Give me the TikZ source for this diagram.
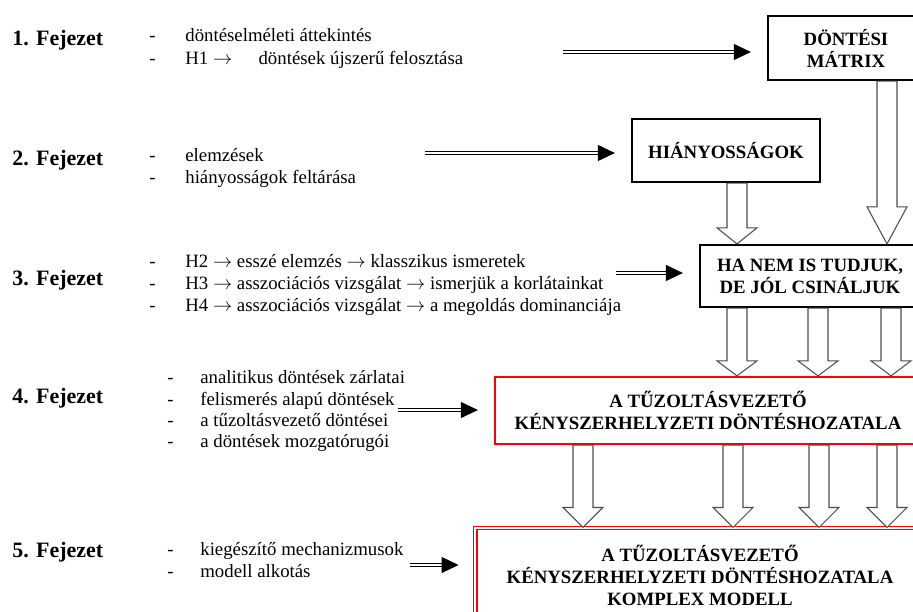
\documentclass[tikz,border=0pt]{standalone}
\usepackage{fontspec}
\setmainfont{Liberation Serif}
\usetikzlibrary{arrows.meta,calc}

\newcommand\bodyfont{\fontsize{10.7}{13}\selectfont}
\newcommand\chapfont{\fontsize{12.5}{15}\selectfont\bfseries}
\newcommand\boxfont{\fontsize{10.7}{12.5}\selectfont\bfseries}

% hollow block arrow: column, from node, to node, head length
\newcommand\bigarrow[4]{%
  \draw[blockarrow] let \p1=(#1 |- #2.south), \p2=(#1 |- #3.north) in
    (\x1-0.2cm,\y1) -- (\x1-0.2cm,\y2+#4) -- (\x1-0.4cm,\y2+#4) -- (\x1,\y2)
    -- (\x1+0.4cm,\y2+#4) -- (\x1+0.2cm,\y2+#4) -- (\x1+0.2cm,\y1) -- cycle;}

\begin{document}
\begin{tikzpicture}[x=0.02cm, y=-0.02cm,
  chap/.style={anchor=base west, inner sep=0pt, font=\chapfont},
  item/.style={anchor=base west, inner sep=0pt, font=\bodyfont},
  box/.style={draw, line width=1.3pt, align=center, font=\boxfont, inner sep=0pt},
  redbox/.style={box, draw=red},
  redbox2/.style={box, draw=red, line width=0.6pt, double=white, double distance=1.6pt},
  dblarrow/.style={double, double distance=1.3pt, line width=0.6pt,
    -{Triangle[length=0.34cm, width=0.32cm]}, shorten >=0.32cm},
  blockarrow/.style={draw=black!70, line width=0.6pt, fill=white}]
\useasboundingbox (0,0) rectangle (913,612);
\clip (0,0) rectangle (913,612);

% chapter labels
\foreach \n/\yy in {1/45, 2/165, 3/285, 4/403, 5/557}
  \node[chap] (f\n) at (12,\yy) {\n. Fejezet};

% chapter 1
\foreach \n/\yy/\txt in {a/41/{döntéselméleti áttekintés},
    b/64/{H1 $\rightarrow$\hspace{1.4em}döntések újszerű felosztása}} {
  \node[item] (d1\n) at (149,\yy) {-};
  \node[item] (i1\n) at (185,\yy) {\txt};
}
% chapter 2
\foreach \n/\yy/\txt in {a/161/{elemzések}, b/183/{hiányosságok feltárása}} {
  \node[item] (d2\n) at (149,\yy) {-};
  \node[item] (i2\n) at (185,\yy) {\txt};
}
% chapter 3
\foreach \n/\yy/\txt in {a/267/{H2 $\rightarrow$ esszé elemzés $\rightarrow$ klasszikus ismeretek},
    b/289/{H3 $\rightarrow$ asszociációs vizsgálat $\rightarrow$ ismerjük a korlátainkat},
    c/311/{H4 $\rightarrow$ asszociációs vizsgálat $\rightarrow$ a megoldás dominanciája}} {
  \node[item] (d3\n) at (149,\yy) {-};
  \node[item] (i3\n) at (185,\yy) {\txt};
}
% chapter 4
\foreach \n/\yy/\txt in {a/383/{analitikus döntések zárlatai}, b/405/{felismerés alapú döntések},
    c/426/{a tűzoltásvezető döntései}, d/447/{a döntések mozgatórugói}} {
  \node[item] (d4\n) at (167,\yy) {-};
  \node[item] (i4\n) at (200,\yy) {\txt};
}
% chapter 5
\foreach \n/\yy/\txt in {a/555/{kiegészítő mechanizmusok}, b/577/{modell alkotás}} {
  \node[item] (d5\n) at (167,\yy) {-};
  \node[item] (i5\n) at (200,\yy) {\txt};
}

% boxes
\node[box, minimum width=3.12cm, minimum height=1.28cm] (dontesi) at (846,48) {DÖNTÉSI\\MÁTRIX};
\node[box, minimum width=3.76cm, minimum height=1.26cm] (hiany) at (726,150.5) {HIÁNYOSSÁGOK};
\node[box, minimum width=4.4cm, minimum height=1.24cm] (tudjuk) at (810,276) {HA NEM IS TUDJUK,\\DE JÓL CSINÁLJUK};
\node[redbox, minimum width=8.52cm, minimum height=1.34cm] (kenyszer) at (708,410.5)
  {A TŰZOLTÁSVEZETŐ\\KÉNYSZERHELYZETI DÖNTÉSHOZATALA};
\node[redbox2, minimum width=9.0cm, minimum height=1.88cm] (komplex) at (700,575)
  {A TŰZOLTÁSVEZETŐ\\KÉNYSZERHELYZETI DÖNTÉSHOZATALA\\KOMPLEX MODELL};

% double arrows from the chapters
\coordinate (s1) at (563,52);
\coordinate (s2) at (425,153);
\coordinate (s3) at (616,273);
\coordinate (s4) at (398,410);
\coordinate (s5) at (410,565);
\draw[dblarrow] (s1) -- (s1 -| dontesi.west);
\draw[dblarrow] (s2) -- (s2 -| hiany.west);
\draw[dblarrow] (s3) -- (s3 -| tudjuk.west);
\draw[dblarrow] (s4) -- (s4 -| kenyszer.west);
\draw[dblarrow] (s5) -- (s5 -| komplex.west);

% block arrows between boxes
\foreach \n/\xx in {1/583, 2/733, 3/737, 4/818, 5/819, 6/887, 7/891}
  \coordinate (k\n) at (\xx,0);
\bigarrow{k6}{dontesi}{tudjuk}{0.74cm}
\bigarrow{k3}{hiany}{tudjuk}{0.32cm}
\bigarrow{k3}{tudjuk}{kenyszer}{0.3cm}
\bigarrow{k4}{tudjuk}{kenyszer}{0.3cm}
\bigarrow{k7}{tudjuk}{kenyszer}{0.3cm}
\bigarrow{k1}{kenyszer}{komplex}{0.4cm}
\bigarrow{k2}{kenyszer}{komplex}{0.4cm}
\bigarrow{k5}{kenyszer}{komplex}{0.4cm}
\bigarrow{k6}{kenyszer}{komplex}{0.4cm}
\end{tikzpicture}
\end{document}
